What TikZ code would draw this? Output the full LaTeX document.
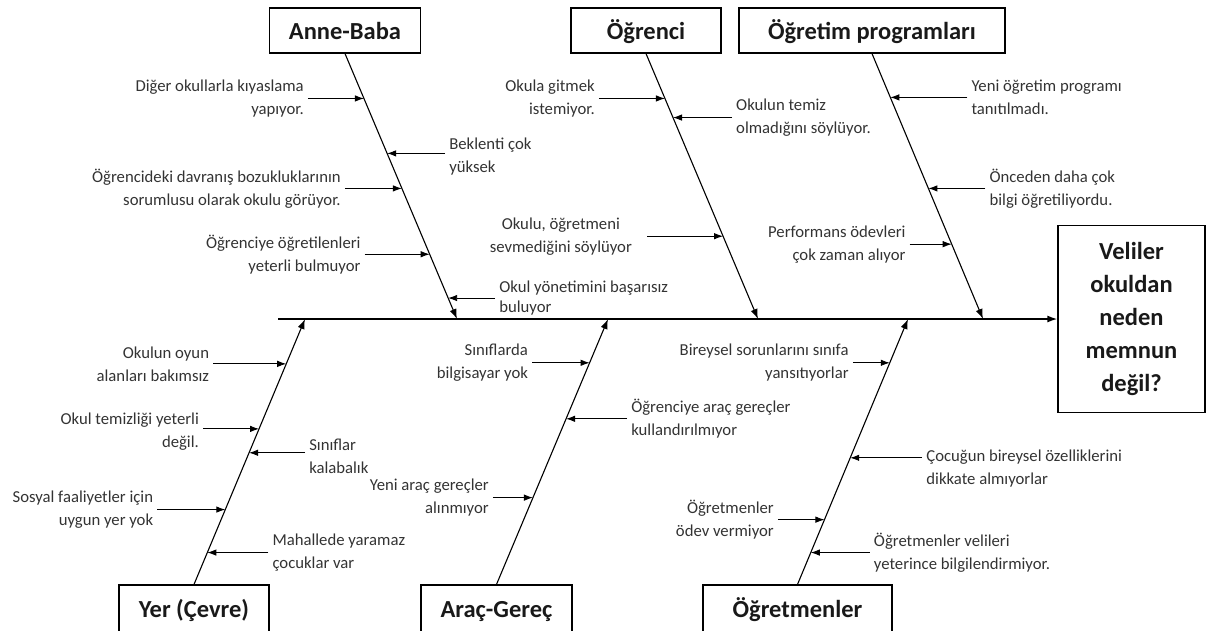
\documentclass[tikz,border=0pt]{standalone}
\usepackage{fontspec}
\setmainfont{Carlito}
\usetikzlibrary{calc,positioning,arrows.meta}

\newcommand{\causesize}{\fontsize{16.7}{23}\selectfont}
\newcommand{\catsize}{\fontsize{24.5}{30}\selectfont\bfseries}
\newcommand{\headsize}{\fontsize{24.5}{33}\selectfont\bfseries}

\tikzset{
	catbox/.style={draw, line width=1.2pt, font=\catsize, text=black!90, minimum height=45pt, inner sep=0pt, text height=20pt, text depth=3pt},
	headbox/.style={draw, line width=1.2pt, font=\headsize, text=black!90, align=center, minimum width=147pt, minimum height=187pt, inner sep=0pt},
	causel/.style={font=\causesize, text=black!80, align=right, inner xsep=4pt, inner ysep=0pt},
	causer/.style={font=\causesize, text=black!80, align=left, inner xsep=4pt, inner ysep=0pt},
	spine/.style={line width=1.6pt, -{Latex[length=10pt,width=7pt]}},
	bone/.style={line width=1.1pt, -{Latex[length=10pt,width=7pt]}},
	sub/.style={line width=0.9pt, -{Latex[length=9pt,width=6.5pt]}}
}

\begin{document}
\begin{tikzpicture}[x=1pt,y=-1pt]
\useasboundingbox (0,0) rectangle (1206,630);
\clip (0,0) rectangle (1206,630);

\node[catbox, minimum width=151pt] (anne) at (345,30.5) {Anne-Baba};
\node[catbox, minimum width=150pt] (ogrenci) at (646,30.5) {Öğrenci};
\node[catbox, minimum width=266pt] (program) at (872,30.5) {Öğretim programları};
\node[catbox, minimum width=150pt, minimum height=47pt] (yer) at (194,608.5) {Yer (Çevre)};
\node[catbox, minimum width=151pt, minimum height=47pt] (arac) at (496.5,608.5) {Araç-Gereç};
\node[catbox, minimum width=189pt, minimum height=47pt] (ogretmen) at (797.5,608.5) {Öğretmenler};
\node[headbox] (head) at (1131.5,319) {Veliler\\okuldan\\neden\\memnun\\değil?};

\coordinate (tail) at (278,319);
\coordinate (anneEnd) at (457,319);
\coordinate (ogrenciEnd) at (758,319);
\coordinate (programEnd) at (983,319);
\coordinate (yerEnd) at (305,319);
\coordinate (aracEnd) at (608,319);
\coordinate (ogretmenEnd) at (908,319);

\draw[spine] (tail) -- (head.west);
\draw[bone] (anne.south) -- (anneEnd);
\draw[bone] (ogrenci.south) -- (ogrenciEnd);
\draw[bone] (program.south) -- (programEnd);
\draw[bone] (yer.north) -- (yerEnd);
\draw[bone] (arac.north) -- (aracEnd);
\draw[bone] (ogretmen.north) -- (ogretmenEnd);

\coordinate (a1) at ($(anne.south)!0.169!(anneEnd)$);
\coordinate (a2) at ($(anne.south)!0.376!(anneEnd)$);
\coordinate (a3) at ($(anne.south)!0.508!(anneEnd)$);
\coordinate (a4) at ($(anne.south)!0.756!(anneEnd)$);
\coordinate (a5) at ($(anne.south)!0.921!(anneEnd)$);
\node[causel, left=56pt of a1] (ta1) {Diğer okullarla kıyaslama\\yapıyor.};
\node[causer, right=58pt of a2, yshift=-3pt] (ta2) {Beklenti çok\\yüksek};
\node[causel, left=57pt of a3] (ta3) {Öğrencideki davranış bozukluklarının\\sorumlusu olarak okulu görüyor.};
\node[causel, left=65pt of a4] (ta4) {Öğrenciye öğretilenleri\\yeterli bulmuyor};
\node[causer, right=47pt of a5, font=\fontsize{16.7}{20}\selectfont] (ta5) {Okul yönetimini başarısız\\buluyor};
\draw[sub] (ta1) -- (a1);
\draw[sub] (ta2.west |- a2) -- (a2);
\draw[sub] (ta3) -- (a3);
\draw[sub] (ta4) -- (a4);
\draw[sub] (ta5) -- (a5);

\coordinate (b1) at ($(ogrenci.south)!0.169!(ogrenciEnd)$);
\coordinate (b2) at ($(ogrenci.south)!0.241!(ogrenciEnd)$);
\coordinate (b3) at ($(ogrenci.south)!0.688!(ogrenciEnd)$);
\node[causel, left=66pt of b1] (tb1) {Okula gitmek\\istemiyor.};
\node[causer, right=59pt of b2] (tb2) {Okulun temiz\\olmadığını söylüyor.};
\node[causel, align=center, inner xsep=15pt, left=76pt of b3] (tb3) {Okulu, öğretmeni\\sevmediğini söylüyor};
\draw[sub] (tb1) -- (b1);
\draw[sub] (tb2) -- (b2);
\draw[sub] (tb3) -- (b3);

\coordinate (c1) at ($(program.south)!0.165!(programEnd)$);
\coordinate (c2) at ($(program.south)!0.508!(programEnd)$);
\coordinate (c3) at ($(program.south)!0.718!(programEnd)$);
\node[causer, right=77pt of c1] (tc1) {Yeni öğretim programı\\tanıtılmadı.};
\node[causer, right=57pt of c2] (tc2) {Önceden daha çok\\bilgi öğretiliyordu.};
\node[causel, left=42pt of c3] (tc3) {Performans ödevleri\\çok zaman alıyor};
\draw[sub] (tc1) -- (c1);
\draw[sub] (tc2) -- (c2);
\draw[sub] (tc3) -- (c3);

\coordinate (d1) at ($(yer.north)!0.831!(yerEnd)$);
\coordinate (d2) at ($(yer.north)!0.586!(yerEnd)$);
\coordinate (d3) at ($(yer.north)!0.496!(yerEnd)$);
\coordinate (d4) at ($(yer.north)!0.282!(yerEnd)$);
\coordinate (d5) at ($(yer.north)!0.120!(yerEnd)$);
\node[causel, left=73pt of d1] (td1) {Okulun oyun\\alanları bakımsız};
\node[causel, left=56pt of d2, yshift=-3pt] (td2) {Okul temizliği yeterli\\değil.};
\node[causer, right=56pt of d3, yshift=-4pt] (td3) {Sınıflar\\kalabalık};
\node[causel, left=68pt of d4] (td4) {Sosyal faaliyetler için\\uygun yer yok};
\node[causer, right=61pt of d5] (td5) {Mahallede yaramaz\\çocuklar var};
\draw[sub] (td1) -- (d1);
\draw[sub] (td2.east |- d2) -- (d2);
\draw[sub] (td3.west |- d3) -- (d3);
\draw[sub] (td4) -- (d4);
\draw[sub] (td5) -- (d5);

\coordinate (e1) at ($(arac.north)!0.835!(aracEnd)$);
\coordinate (e2) at ($(arac.north)!0.624!(aracEnd)$);
\coordinate (e3) at ($(arac.north)!0.327!(aracEnd)$);
\node[causel, left=57.5pt of e1] (te1) {Sınıflarda\\bilgisayar yok};
\node[causer, right=61pt of e2] (te2) {Öğrenciye araç gereçler\\kullandırılmıyor};
\node[causel, left=40pt of e3] (te3) {Yeni araç gereçler\\alınmıyor};
\draw[sub] (te1) -- (e1);
\draw[sub] (te2) -- (e2);
\draw[sub] (te3) -- (e3);

\coordinate (f1) at ($(ogretmen.north)!0.835!(ogretmenEnd)$);
\coordinate (f2) at ($(ogretmen.north)!0.477!(ogretmenEnd)$);
\coordinate (f3) at ($(ogretmen.north)!0.244!(ogretmenEnd)$);
\coordinate (f4) at ($(ogretmen.north)!0.120!(ogretmenEnd)$);
\node[causel, left=37pt of f1] (tf1) {Bireysel sorunlarını sınıfa\\yansıtıyorlar};
\node[causer, right=72pt of f2, yshift=-11pt] (tf2) {Çocuğun bireysel özelliklerini\\dikkate almıyorlar};
\node[causel, left=46.5pt of f3] (tf3) {Öğretmenler\\ödev vermiyor};
\node[causer, right=59pt of f4] (tf4) {Öğretmenler velileri\\yeterince bilgilendirmiyor.};
\draw[sub] (tf1) -- (f1);
\draw[sub] (tf2.west |- f2) -- (f2);
\draw[sub] (tf3) -- (f3);
\draw[sub] (tf4) -- (f4);
\end{tikzpicture}
\end{document}
